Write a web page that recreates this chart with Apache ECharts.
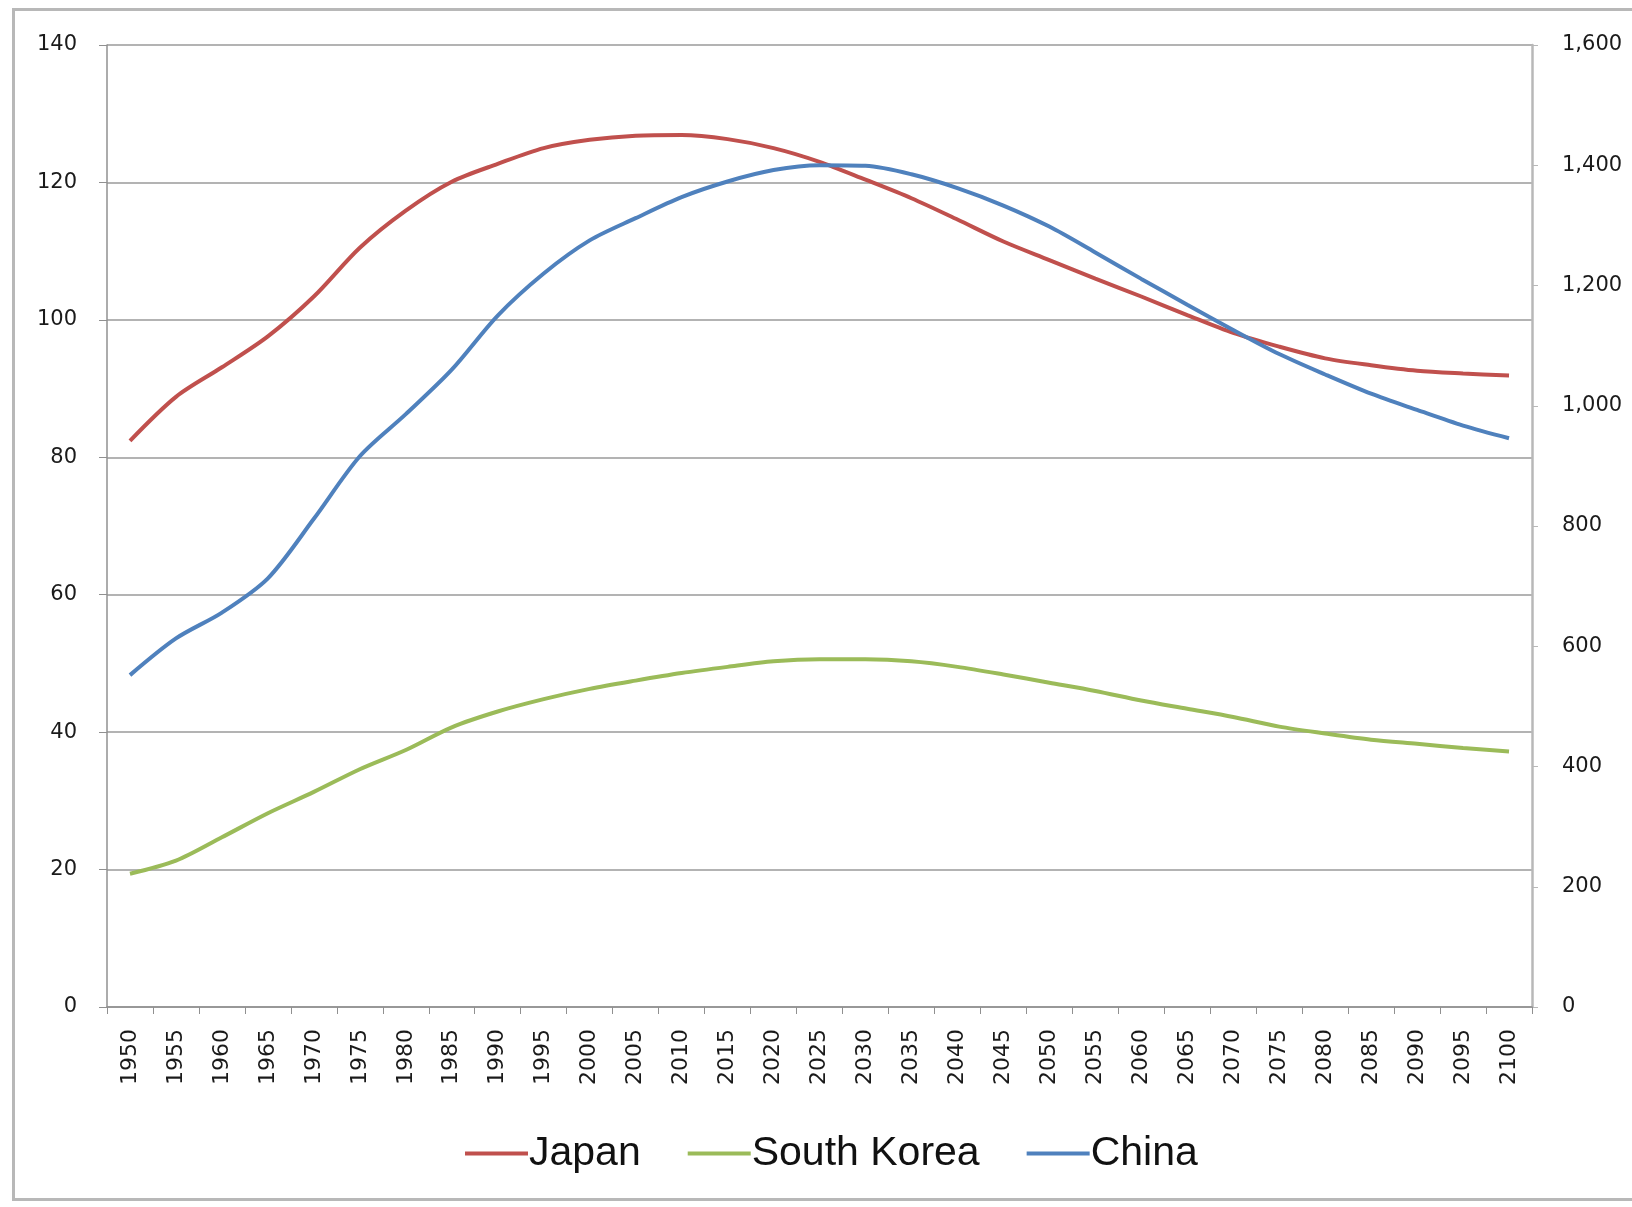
<!DOCTYPE html>
<html>
<head>
<meta charset="utf-8">
<title>Population: Japan, South Korea, China</title>
<script src="https://cdn.jsdelivr.net/npm/echarts@6/dist/echarts.min.js"></script>
<style>
  html, body { margin: 0; padding: 0; background: #ffffff; }
  #chart { width: 1632px; height: 1207px; }
</style>
</head>
<body>
<div id="chart"></div>
<script>
// Years on the category axis
const years = [
  '1950','1955','1960','1965','1970','1975','1980','1985','1990','1995',
  '2000','2005','2010','2015','2020','2025','2030','2035','2040','2045',
  '2050','2055','2060','2065','2070','2075','2080','2085','2090','2095','2100'
];

// Population in millions (Japan and South Korea on the left axis)
const japan = [
  82.4, 88.8, 93.1, 97.6, 103.4, 110.5, 115.9, 120.1, 122.7, 125.0,
  126.2, 126.8, 126.9, 126.3, 125.0, 123.0, 120.4, 117.7, 114.6, 111.4,
  108.7, 106.0, 103.4, 100.7, 98.1, 96.1, 94.4, 93.4, 92.6, 92.2, 91.9
];
const southKorea = [
  19.4, 21.3, 24.7, 28.2, 31.3, 34.6, 37.4, 40.7, 43.0, 44.8,
  46.3, 47.5, 48.6, 49.5, 50.3, 50.6, 50.6, 50.3, 49.5, 48.4,
  47.2, 46.0, 44.6, 43.4, 42.2, 40.8, 39.8, 38.9, 38.3, 37.7, 37.2
];
// China on the right axis, in millions
const china = [
  552, 613, 656, 713, 812, 916, 986, 1060, 1150, 1220,
  1275, 1312, 1347, 1373, 1392, 1400, 1399, 1385, 1362, 1333,
  1298, 1255, 1211, 1168, 1126, 1086, 1052, 1020, 993, 967, 946
];

const leftTicks = { min: 0, max: 140, interval: 20 };
const rightTicks = { min: 0, max: 1600, interval: 200 };

const yFont = { fontFamily: 'DejaVu Sans', fontSize: 21, color: '#1a1a1a' };
const xFont = { fontFamily: 'DejaVu Sans', fontSize: 22, color: '#1a1a1a' };

const chart = echarts.init(document.getElementById('chart'), null, { renderer: 'canvas' });

chart.setOption({
  animation: false,
  backgroundColor: '#ffffff',
  color: ['#c0504d', '#9bbb59', '#4f81bd'],
  graphic: [{
    type: 'rect',
    left: 11, top: 7,
    shape: { width: 1640, height: 1190 },
    style: { fill: 'none', stroke: '#b8b8b8', lineWidth: 3 },
    silent: true
  }],
  grid: { left: 107, right: 100, top: 45, bottom: 200, containLabel: false },
  legend: {
    left: 460,
    top: 1128,
    itemWidth: 63,
    itemHeight: 4,
    itemGap: 47,
    icon: 'rect',
    textStyle: { fontFamily: 'Liberation Sans', fontSize: 41, color: '#111111', padding: [0, 0, 0, -4] },
    data: ['Japan', 'South Korea', 'China']
  },
  xAxis: {
    type: 'category',
    data: years,
    boundaryGap: true,
    axisLine: { lineStyle: { color: '#909090', width: 1.5 } },
    axisTick: { show: true, length: 7, alignWithLabel: false, lineStyle: { color: '#909090' } },
    axisLabel: { rotate: 90, interval: 0, margin: 22, ...xFont }
  },
  yAxis: [{
    type: 'value',
    position: 'left',
    ...leftTicks,
    axisLine: { show: true, lineStyle: { color: '#909090', width: 1.5 } },
    axisTick: { show: true, length: 8, lineStyle: { color: '#909090' } },
    axisLabel: { margin: 30, ...yFont },
    splitLine: { show: true, lineStyle: { color: '#9a9a9a', width: 1.5 } }
  }, {
    type: 'value',
    position: 'right',
    ...rightTicks,
    axisLine: { show: true, lineStyle: { color: '#b8b8b8', width: 2.5 } },
    axisTick: { show: true, length: 6, lineStyle: { color: '#b8b8b8' } },
    axisLabel: {
      margin: 30,
      ...yFont,
      formatter: v => v.toLocaleString('en-US')
    },
    splitLine: { show: false }
  }],
  series: [{
    name: 'Japan', type: 'line', yAxisIndex: 0, data: japan,
    smooth: 0.3, showSymbol: false, lineStyle: { width: 4 }
  }, {
    name: 'South Korea', type: 'line', yAxisIndex: 0, data: southKorea,
    smooth: 0.3, showSymbol: false, lineStyle: { width: 4 }
  }, {
    name: 'China', type: 'line', yAxisIndex: 1, data: china,
    smooth: 0.3, showSymbol: false, lineStyle: { width: 4 }
  }]
});
</script>
</body>
</html>
